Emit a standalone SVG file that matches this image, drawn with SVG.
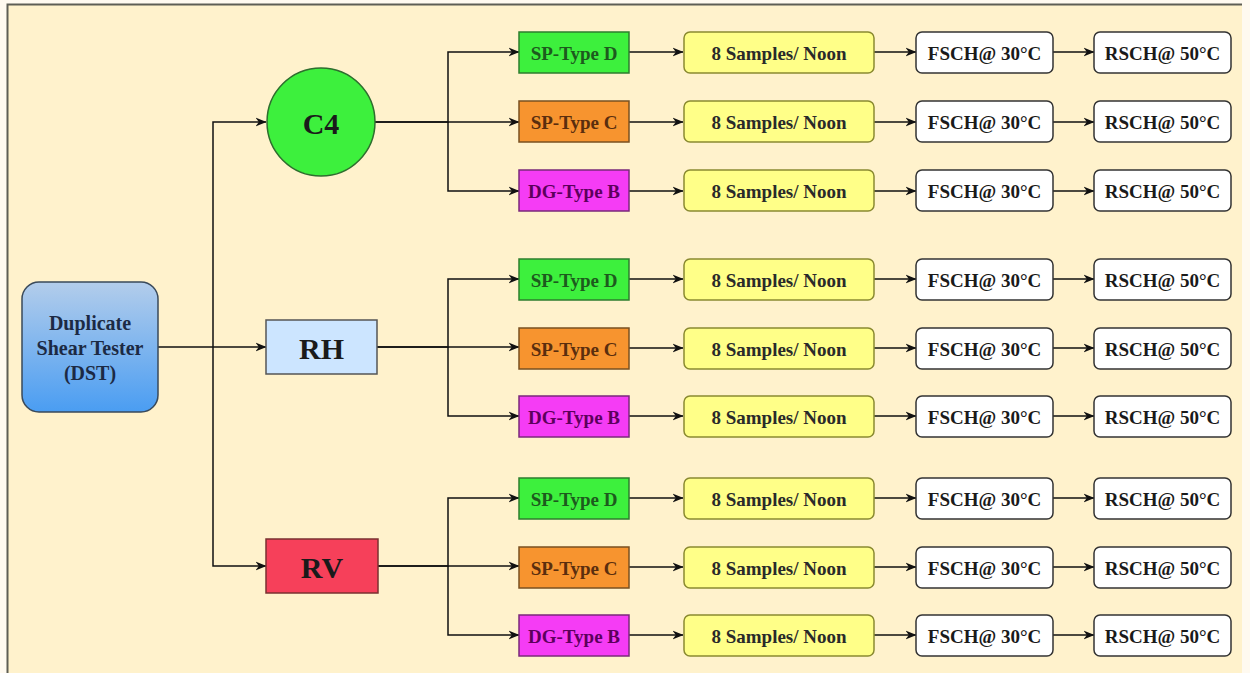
<svg xmlns="http://www.w3.org/2000/svg" width="1250" height="673" viewBox="0 0 1250 673">
  <style>
    text { font-family: "Liberation Serif", "Times New Roman", serif; font-weight: bold; text-anchor: middle; dominant-baseline: central; }
    .edge { fill: none; stroke: #111; stroke-width: 1.5; }
    .arr { marker-end: url(#arrow); }
    .big { font-size: 30px; fill: #1a1a1a; }
    .lbl { font-size: 19px; }
    .t-d rect { fill: #3df03d; stroke: #2e7d2e; }
    .t-d text { fill: #1d5a1d; }
    .t-c rect { fill: #f7942f; stroke: #7a5020; }
    .t-c text { fill: #5a2e0e; }
    .t-b rect { fill: #f53cf5; stroke: #7a2a7a; }
    .t-b text { fill: #5c005c; }
    .smp rect { fill: #ffff88; stroke: #8a8a30; }
    .smp text { fill: #2a2a2a; }
    .temp rect { fill: #ffffff; stroke: #333; }
    .temp text { fill: #1a1a1a; font-size: 19px; }
  </style>
  <defs>
    <marker id="arrow" viewBox="0 0 10 10" refX="9.5" refY="5" markerWidth="11" markerHeight="11" markerUnits="userSpaceOnUse" orient="auto">
      <path d="M0,1 L10,5 L0,9 L3,5 Z" fill="#111"/>
    </marker>
    <linearGradient id="dstFill" x1="0" y1="0" x2="0" y2="1">
      <stop offset="0" stop-color="#b3cdeb"/>
      <stop offset="1" stop-color="#4a9df2"/>
    </linearGradient>
  </defs>

  <!-- page and frame -->
  <rect x="0" y="0" width="1250" height="673" fill="#fffaf0"/>
  <rect x="7" y="4" width="1235" height="669" fill="#fff2cc"/>
  <path d="M7.5,673 V4.5 H1242" fill="none" stroke="#5e5e55" stroke-width="2"/>

  <!-- connectors -->
  <g id="connectors">
    <path class="edge arr" d="M158,347 H266"/>
    <path class="edge arr" d="M213,347 V122 H266"/>
    <path class="edge arr" d="M213,347 V566 H266"/>

    <path class="edge arr" d="M375,122 H448 V52 H519"/>
    <path class="edge arr" d="M375,122 H519"/>
    <path class="edge arr" d="M448,122 V191 H519"/>

    <path class="edge arr" d="M377,347 H448 V279 H519"/>
    <path class="edge arr" d="M377,347 H519"/>
    <path class="edge arr" d="M448,347 V416 H519"/>

    <path class="edge arr" d="M378,566 H448 V498 H519"/>
    <path class="edge arr" d="M378,566 H519"/>
    <path class="edge arr" d="M448,566 V635 H519"/>

    <!-- row chains -->
    <g id="chains">
      <path class="edge arr" d="M629,52 H683"/><path class="edge arr" d="M874,52 H916"/><path class="edge arr" d="M1053,52 H1094"/>
      <path class="edge arr" d="M629,122 H683"/><path class="edge arr" d="M874,122 H916"/><path class="edge arr" d="M1053,122 H1094"/>
      <path class="edge arr" d="M629,191 H683"/><path class="edge arr" d="M874,191 H916"/><path class="edge arr" d="M1053,191 H1094"/>
      <path class="edge arr" d="M629,279 H683"/><path class="edge arr" d="M874,279 H916"/><path class="edge arr" d="M1053,279 H1094"/>
      <path class="edge arr" d="M629,348 H683"/><path class="edge arr" d="M874,348 H916"/><path class="edge arr" d="M1053,348 H1094"/>
      <path class="edge arr" d="M629,416 H683"/><path class="edge arr" d="M874,416 H916"/><path class="edge arr" d="M1053,416 H1094"/>
      <path class="edge arr" d="M629,498 H683"/><path class="edge arr" d="M874,498 H916"/><path class="edge arr" d="M1053,498 H1094"/>
      <path class="edge arr" d="M629,567 H683"/><path class="edge arr" d="M874,567 H916"/><path class="edge arr" d="M1053,567 H1094"/>
      <path class="edge arr" d="M629,635 H683"/><path class="edge arr" d="M874,635 H916"/><path class="edge arr" d="M1053,635 H1094"/>
    </g>
  </g>

  <!-- root -->
  <g id="dst">
    <rect x="22" y="282" width="136" height="130" rx="17" fill="url(#dstFill)" stroke="#3a4a5a" stroke-width="1.5"/>
    <text x="90" y="323" font-size="20" fill="#1c2a44">Duplicate</text>
    <text x="90" y="348" font-size="20" fill="#1c2a44">Shear Tester</text>
    <text x="90" y="373" font-size="20" fill="#1c2a44">(DST)</text>
  </g>

  <!-- orientations -->
  <g id="c4">
    <circle cx="321" cy="122" r="54" fill="#3df03d" stroke="#2e6e2e" stroke-width="1.5"/>
    <text class="big" x="321" y="123">C4</text>
  </g>
  <g id="rh">
    <rect x="266" y="320" width="111" height="54" fill="#cce5ff" stroke="#555" stroke-width="1.5"/>
    <text class="big" x="321.5" y="348">RH</text>
  </g>
  <g id="rv">
    <rect x="266" y="539" width="112" height="54" fill="#f6405a" stroke="#7a3030" stroke-width="1.5"/>
    <text class="big" x="322" y="567" fill="#2a0a0a">RV</text>
  </g>

  <!-- C4 branch -->
  <g id="c4-spd" class="t-d"><rect x="519" y="32" width="110" height="41" stroke-width="1.5"/><text class="lbl" x="574" y="53">SP-Type D</text></g>
  <g id="c4-spc" class="t-c"><rect x="519" y="101" width="110" height="41" stroke-width="1.5"/><text class="lbl" x="574" y="122">SP-Type C</text></g>
  <g id="c4-dgb" class="t-b"><rect x="519" y="170" width="110" height="41" stroke-width="1.5"/><text class="lbl" x="574" y="191">DG-Type B</text></g>

  <g id="c4-smp1" class="smp"><rect x="684" y="32" width="190" height="41" rx="6" stroke-width="1.5"/><text class="lbl" x="779" y="53">8 Samples/ Noon</text></g>
  <g id="c4-smp2" class="smp"><rect x="684" y="101" width="190" height="41" rx="6" stroke-width="1.5"/><text class="lbl" x="779" y="122">8 Samples/ Noon</text></g>
  <g id="c4-smp3" class="smp"><rect x="684" y="170" width="190" height="41" rx="6" stroke-width="1.5"/><text class="lbl" x="779" y="191">8 Samples/ Noon</text></g>

  <g id="c4-fsch1" class="temp"><rect x="916" y="32" width="137" height="41" rx="6" stroke-width="1.5"/><text x="984.5" y="53">FSCH@ 30°C</text></g>
  <g id="c4-fsch2" class="temp"><rect x="916" y="101" width="137" height="41" rx="6" stroke-width="1.5"/><text x="984.5" y="122">FSCH@ 30°C</text></g>
  <g id="c4-fsch3" class="temp"><rect x="916" y="170" width="137" height="41" rx="6" stroke-width="1.5"/><text x="984.5" y="191">FSCH@ 30°C</text></g>

  <g id="c4-rsch1" class="temp"><rect x="1094" y="32" width="137" height="41" rx="6" stroke-width="1.5"/><text x="1162.5" y="53">RSCH@ 50°C</text></g>
  <g id="c4-rsch2" class="temp"><rect x="1094" y="101" width="137" height="41" rx="6" stroke-width="1.5"/><text x="1162.5" y="122">RSCH@ 50°C</text></g>
  <g id="c4-rsch3" class="temp"><rect x="1094" y="170" width="137" height="41" rx="6" stroke-width="1.5"/><text x="1162.5" y="191">RSCH@ 50°C</text></g>

  <!-- RH branch -->
  <g id="rh-spd" class="t-d"><rect x="519" y="259" width="110" height="41" stroke-width="1.5"/><text class="lbl" x="574" y="280">SP-Type D</text></g>
  <g id="rh-spc" class="t-c"><rect x="519" y="328" width="110" height="41" stroke-width="1.5"/><text class="lbl" x="574" y="349">SP-Type C</text></g>
  <g id="rh-dgb" class="t-b"><rect x="519" y="396" width="110" height="41" stroke-width="1.5"/><text class="lbl" x="574" y="417">DG-Type B</text></g>

  <g id="rh-smp1" class="smp"><rect x="684" y="259" width="190" height="41" rx="6" stroke-width="1.5"/><text class="lbl" x="779" y="280">8 Samples/ Noon</text></g>
  <g id="rh-smp2" class="smp"><rect x="684" y="328" width="190" height="41" rx="6" stroke-width="1.5"/><text class="lbl" x="779" y="349">8 Samples/ Noon</text></g>
  <g id="rh-smp3" class="smp"><rect x="684" y="396" width="190" height="41" rx="6" stroke-width="1.5"/><text class="lbl" x="779" y="417">8 Samples/ Noon</text></g>

  <g id="rh-fsch1" class="temp"><rect x="916" y="259" width="137" height="41" rx="6" stroke-width="1.5"/><text x="984.5" y="280">FSCH@ 30°C</text></g>
  <g id="rh-fsch2" class="temp"><rect x="916" y="328" width="137" height="41" rx="6" stroke-width="1.5"/><text x="984.5" y="349">FSCH@ 30°C</text></g>
  <g id="rh-fsch3" class="temp"><rect x="916" y="396" width="137" height="41" rx="6" stroke-width="1.5"/><text x="984.5" y="417">FSCH@ 30°C</text></g>

  <g id="rh-rsch1" class="temp"><rect x="1094" y="259" width="137" height="41" rx="6" stroke-width="1.5"/><text x="1162.5" y="280">RSCH@ 50°C</text></g>
  <g id="rh-rsch2" class="temp"><rect x="1094" y="328" width="137" height="41" rx="6" stroke-width="1.5"/><text x="1162.5" y="349">RSCH@ 50°C</text></g>
  <g id="rh-rsch3" class="temp"><rect x="1094" y="396" width="137" height="41" rx="6" stroke-width="1.5"/><text x="1162.5" y="417">RSCH@ 50°C</text></g>

  <!-- RV branch -->
  <g id="rv-spd" class="t-d"><rect x="519" y="478" width="110" height="41" stroke-width="1.5"/><text class="lbl" x="574" y="499">SP-Type D</text></g>
  <g id="rv-spc" class="t-c"><rect x="519" y="547" width="110" height="41" stroke-width="1.5"/><text class="lbl" x="574" y="568">SP-Type C</text></g>
  <g id="rv-dgb" class="t-b"><rect x="519" y="615" width="110" height="41" stroke-width="1.5"/><text class="lbl" x="574" y="636">DG-Type B</text></g>

  <g id="rv-smp1" class="smp"><rect x="684" y="478" width="190" height="41" rx="6" stroke-width="1.5"/><text class="lbl" x="779" y="499">8 Samples/ Noon</text></g>
  <g id="rv-smp2" class="smp"><rect x="684" y="547" width="190" height="41" rx="6" stroke-width="1.5"/><text class="lbl" x="779" y="568">8 Samples/ Noon</text></g>
  <g id="rv-smp3" class="smp"><rect x="684" y="615" width="190" height="41" rx="6" stroke-width="1.5"/><text class="lbl" x="779" y="636">8 Samples/ Noon</text></g>

  <g id="rv-fsch1" class="temp"><rect x="916" y="478" width="137" height="41" rx="6" stroke-width="1.5"/><text x="984.5" y="499">FSCH@ 30°C</text></g>
  <g id="rv-fsch2" class="temp"><rect x="916" y="547" width="137" height="41" rx="6" stroke-width="1.5"/><text x="984.5" y="568">FSCH@ 30°C</text></g>
  <g id="rv-fsch3" class="temp"><rect x="916" y="615" width="137" height="41" rx="6" stroke-width="1.5"/><text x="984.5" y="636">FSCH@ 30°C</text></g>

  <g id="rv-rsch1" class="temp"><rect x="1094" y="478" width="137" height="41" rx="6" stroke-width="1.5"/><text x="1162.5" y="499">RSCH@ 50°C</text></g>
  <g id="rv-rsch2" class="temp"><rect x="1094" y="547" width="137" height="41" rx="6" stroke-width="1.5"/><text x="1162.5" y="568">RSCH@ 50°C</text></g>
  <g id="rv-rsch3" class="temp"><rect x="1094" y="615" width="137" height="41" rx="6" stroke-width="1.5"/><text x="1162.5" y="636">RSCH@ 50°C</text></g>
</svg>
